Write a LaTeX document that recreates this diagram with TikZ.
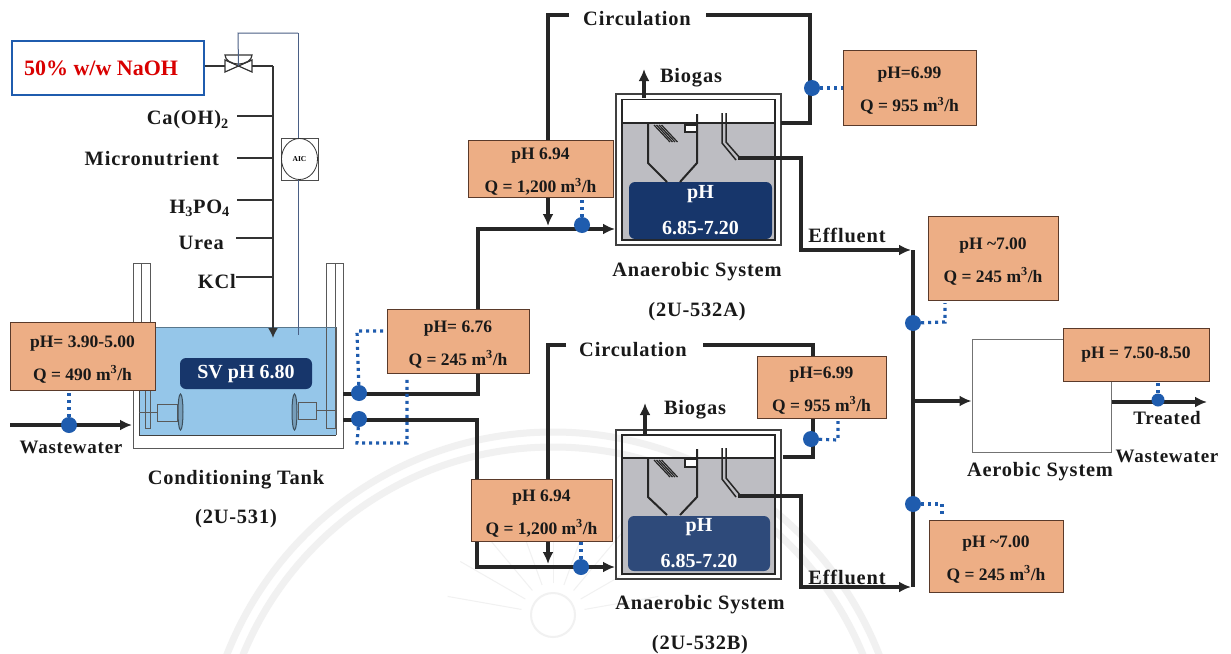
\documentclass[tikz,border=0pt]{standalone}
\usepackage{fontspec}
\setmainfont{Liberation Serif}
\newfontfamily\labfont[LetterSpace=4]{Liberation Serif}
\usetikzlibrary{arrows.meta,shapes.geometric}
\definecolor{boxfill}{HTML}{EDAE85}
\definecolor{boxline}{HTML}{5A3A2A}
\definecolor{navy}{HTML}{17366B}
\definecolor{water}{HTML}{95C6E9}
\definecolor{dotblue}{HTML}{1F5CAE}
\definecolor{sludge}{HTML}{BDBDC2}
\definecolor{pipe}{HTML}{262626}
\definecolor{wm}{HTML}{F1F1F1}
\definecolor{ctrlc}{HTML}{4A5F85}
\tikzset{
  databox/.style={draw=boxline,fill=boxfill,line width=1pt,inner sep=0pt,align=center,
    font=\fontsize{17.5}{33}\selectfont\bfseries,text=black!90},
  lab/.style={font=\fontsize{20.4}{24}\selectfont\labfont\bfseries,text=black!90,inner sep=0pt,yshift=-2pt},
  smalllab/.style={lab,font=\fontsize{19}{23}\selectfont\labfont\bfseries},
  darkbox/.style={fill=navy,rounded corners=6pt,inner sep=0pt,text=white,align=center},
  pipeline/.style={draw=pipe,line width=3.2pt},
  thinline/.style={draw=pipe,line width=1.2pt},
  hood/.style={draw=pipe,line width=2pt},
  ctrl/.style={draw=ctrlc,line width=1pt},
  wall/.style={draw=black!65,line width=1pt},
  flow/.style={pipeline,-{Latex[length=12pt,width=11pt]}},
  feed/.style={draw=black!80,line width=1.8pt},
  probe/.style={circle,fill=dotblue,minimum size=16pt,inner sep=0pt},
  tap/.style={draw=dotblue,line width=3.2pt,dash pattern=on 3pt off 4pt},
}
% first-line strut: pushes the two text lines of a data box down to where the reference has them
\newcommand{\twolines}[2]{\rule{0pt}{18pt}#1\\#2}
\begin{document}
\begin{tikzpicture}[x=1pt,y=-1pt]
\useasboundingbox (0,0) rectangle (1231,653);
\fill[white] (0,0) rectangle (1231,653);
% watermark
\draw[wm,line width=7pt] (553,782) circle[radius=350];
\draw[wm,line width=7pt] (553,782) circle[radius=335];
\draw[wm,line width=2pt] (553,615) circle[radius=22];
\foreach \a in {10,30,...,170}{\draw[wm,line width=1pt] (553,615)++({-\a}:32) -- ++({-\a}:75);}

% ---- conditioning tank
\fill[water] (139,327) rectangle (336,435);
\draw[wall] (133,263) -- (133,448) -- (343,448) -- (343,263);
\draw[wall] (133,263) -- (150,263) -- (150,327);
\draw[wall] (141,263) -- (141,327);
\draw[wall] (326,263) -- (343,263);
\draw[wall] (326,263) -- (326,428) -- (335,428) -- (335,263);
\draw[wall,draw=black!75] (139,327) -- (139,435) -- (336,435);
\draw[wall] (336,327) -- (336,435);
\draw[wall,draw=black!40!water] (139,327) -- (336,327);
\draw[wall] (145,390) -- (145,428) -- (150,428) -- (150,390);
\draw[wall] (139,412) -- (157,412);
\draw[wall,fill=water] (157,404) rectangle (177,421);
\draw[wall,draw=black!60!water,fill=water!80!black] (180.5,412) ellipse[x radius=2.5,y radius=18];
\draw[wall] (316,410) -- (336,410);
\draw[wall,fill=water] (298,402) rectangle (316,419);
\draw[wall,draw=black!60!water,fill=water!80!black] (294.5,412) ellipse[x radius=2.5,y radius=18];
\node[darkbox,minimum width=132pt,minimum height=31pt,font=\fontsize{20}{23}\selectfont\bfseries] (sv) at (246,373.5) {SV pH 6.80};
\node[lab] (ctname) at (236,478) {Conditioning Tank};
\node[lab] (ctid) at (236,517) {(2U-531)};

% ---- NaOH feed
\node[draw=dotblue,line width=1.4pt,minimum width=192pt,minimum height=54pt,inner sep=0pt] (naoh) at (108,68) {};
\node[font=\fontsize{22}{25}\selectfont\bfseries,text=red!85!black,inner sep=0pt] (naohtxt) at (101,68.5) {50\% w/w NaOH};
\coordinate (vl) at (225,66);
\coordinate (vr) at (252,66);
\coordinate (vc) at (238.5,66);
\coordinate (head) at (273,66);
\coordinate (tankin) at (273,338);
\draw[feed,line width=1.2pt] (naoh.east |- vl) -- (vl);
\draw[feed,line width=1.2pt,fill=white] (225,60) -- (252,72) -- (252,60) -- (225,72) -- cycle;
\draw[feed,line width=1.2pt] (vr) -- (head);
\draw[feed,line width=1.2pt] (225,55) arc[start angle=180,end angle=0,x radius=13.5,y radius=9] -- cycle;
\draw[ctrl] (vc) -- (238,33) -- (298,33);
\draw[feed,-{Latex[length=10pt,width=10pt]}] (head) -- (tankin);
\node[draw=black!70,minimum width=37pt,minimum height=42pt,inner sep=0pt,line width=.8pt] (aicbox) at (299.5,159) {};
\node[draw=black!80,ellipse,minimum width=36pt,minimum height=41pt,inner sep=0pt,line width=.8pt,font=\fontsize{7.5}{9}\selectfont\bfseries] (aic) at (299.5,159) {AIC};
\coordinate (ctrltop) at (298,33);
\coordinate (ctrlend) at (298,335);
\draw[ctrl] (ctrltop) -- (aicbox.north -| ctrltop);
\draw[ctrl] (aicbox.south -| ctrltop) -- (ctrlend);
\foreach \nm/\yy/\xs in {ca/116/237,mi/158/237,hp/200/237,ur/238/236,kc/277/236}{
  \coordinate (\nm) at (\xs,\yy);
  \draw[feed] (\nm) -- (273,\yy);
}
\node[lab,anchor=east] (catxt) at (229,118) {Ca(OH)\textsubscript{2}};
\node[lab,anchor=east] (mitxt) at (219,157) {Micronutrient};
\node[lab,anchor=east] (hptxt) at (230,206) {H\textsubscript{3}PO\textsubscript{4}};
\node[lab,anchor=east] (urtxt) at (224,241) {Urea};
\node[lab,anchor=east] (kctxt) at (236,280) {KCl};

% ---- influent
\node[databox,minimum width=145pt,minimum height=68pt] (pin) at (82.5,356) {\twolines{pH= 3.90-5.00}{Q = 490 m\textsuperscript{3}/h}};
\coordinate (wwstart) at (10,425);
\coordinate (wwend) at (132,425);
\draw[flow] (wwstart) -- (wwend);
\node[probe] (din) at (69,425) {};
\draw[tap] (din) -- (din |- pin.south);
\node[smalllab] (wwtxt) at (71,445) {Wastewater};

% ---- split to the anaerobic systems
\coordinate (a1) at (343,394);
\coordinate (a2) at (343,420);
\coordinate (ainA) at (615,229);
\coordinate (ainB) at (615,567);
\draw[flow] (a1) -- (478,394) -- (478,229) -- (ainA);
\draw[flow] (a2) -- (477,420) -- (477,567) -- (ainB);
\node[probe] (d1) at (359,393) {};
\node[probe] (d2) at (359,419) {};
\node[databox,minimum width=142pt,minimum height=64pt] (pmid) at (458,341) {\twolines{pH= 6.76}{Q = 245 m\textsuperscript{3}/h}};
\draw[tap] (d1) -- (357,331) -- (384,331);
\draw[tap] (d2) -- (357,443) -- (407,443) -- (407,376);

% ---- system A
\coordinate (carcA) at (548,15);
\node[lab] (circA) at (637,17) {Circulation};
\node[draw=black!75,line width=1.8pt,minimum width=165pt,minimum height=151pt,inner sep=0pt] (tankA) at (698.5,169.5) {};
\fill[sludge] (622,124) rectangle (775,240);
\draw[black!85,line width=1.5pt] (622,99.5) rectangle (775,240);
\node[darkbox,minimum width=143pt,minimum height=57pt,font=\fontsize{20}{36}\selectfont\bfseries] (phA) at (700.5,210.5) {pH\\6.85-7.20};
\draw[hood] (622,123) -- (775,123);
\draw[hood] (648,124) -- (648,163) -- (667,182);
\draw[hood] (697,114) -- (697,163) -- (680,182);
\draw[thinline,fill=white] (685,125) rectangle (697,132);
\foreach \d in {0,2.5,5,7.5}{\draw[thinline] (654+\d,125) -- (670+\d,142);}
\draw[thinline,line width=1.5pt] (722,113) -- (722,143) -- (736,160);
\draw[thinline,line width=1.5pt] (726,113) -- (726,142) -- (740,158);
\coordinate (effA) at (738,158);
\coordinate (collA) at (913,250);
\draw[pipeline] (781,123) -- (810,123) -- (810,15) -- (706,15);
\draw[pipeline] (569,15) -- (548,15) -- (548,140);
\node[databox,minimum width=145pt,minimum height=57pt] (pA) at (540.5,168.5) {\twolines{pH 6.94}{Q = 1,200 m\textsuperscript{3}/h}};
\draw[flow] (pA.south -| carcA) -- (548,226);
\node[probe] (dA) at (582,225) {};
\draw[tap] (dA) -- (dA |- pA.south);
\draw[flow] (644,98) -- (644,69);
\node[lab] (bgA) at (691,76) {Biogas};
\node[databox,minimum width=133pt,minimum height=75pt] (rA) at (909.5,87.5) {\twolines{pH=6.99}{Q = 955 m\textsuperscript{3}/h}};
\node[probe] (drA) at (812,88) {};
\draw[tap] (drA) -- (rA.west |- drA);
\node[lab] (anA) at (697,270) {Anaerobic System};
\node[lab] (idA) at (697,310) {(2U-532A)};

% ---- system B
\node[lab] (circB) at (633,348) {Circulation};
\node[draw=black!75,line width=1.8pt,minimum width=165pt,minimum height=149pt,inner sep=0pt] (tankB) at (698.5,504.5) {};
\fill[sludge] (622,459) rectangle (775,574);
\draw[black!85,line width=1.5pt] (622,435) rectangle (775,574);
\node[darkbox,minimum width=142pt,minimum height=55pt,font=\fontsize{20}{36}\selectfont\bfseries,fill=navy!90!white] (phB) at (699,543.5) {pH\\6.85-7.20};
\draw[hood] (622,458) -- (775,458);
\draw[hood] (648,459) -- (648,497) -- (667,515);
\draw[hood] (697,449) -- (697,497) -- (680,515);
\draw[thinline,fill=white] (685,459) rectangle (697,467);
\foreach \d in {0,2.5,5,7.5}{\draw[thinline] (654+\d,460) -- (670+\d,477);}
\draw[thinline,line width=1.5pt] (722,448) -- (722,479) -- (736,497);
\draw[thinline,line width=1.5pt] (726,448) -- (726,478) -- (740,495);
\coordinate (effB) at (738,496);
\coordinate (collB) at (913,587);
\draw[pipeline] (783,457) -- (813,457) -- (813,418);
\draw[pipeline] (813,356) -- (813,345) -- (703,345);
\draw[pipeline] (566,345) -- (548,345) -- (548,479);
\node[databox,minimum width=141pt,minimum height=62pt] (pB) at (541.5,510) {\twolines{pH 6.94}{Q = 1,200 m\textsuperscript{3}/h}};
\coordinate (carcB) at (548,345);
\draw[flow] (pB.south -| carcB) -- (548,564);
\node[probe] (dB) at (581,567) {};
\draw[tap] (dB) -- (dB |- pB.south);
\draw[flow] (645,434) -- (645,403);
\node[lab] (bgB) at (695,408) {Biogas};
\node[databox,minimum width=129pt,minimum height=62pt] (rB) at (821.5,387) {\twolines{pH=6.99}{Q = 955 m\textsuperscript{3}/h}};
\node[probe] (drB) at (811,439) {};
\draw[tap] (drB) -- (838,440) -- (838,421);
\node[lab] (anB) at (700,603) {Anaerobic System};
\node[lab] (idB) at (700,643) {(2U-532B)};

% ---- effluent collector
\draw[flow] (effA) -- (801,158) -- (801,250) -- (911,250);
\draw[flow] (effB) -- (801,496) -- (801,587) -- (911,587);
\draw[pipeline,line width=3.6pt] (collA) -- (collB);
\node[lab] (efA) at (847,233) {Effluent};
\node[lab] (efB) at (847,575) {Effluent};
\node[databox,minimum width=130pt,minimum height=84pt] (q1) at (993,258) {\twolines{pH \textasciitilde7.00}{Q = 245 m\textsuperscript{3}/h}};
\node[databox,minimum width=134pt,minimum height=72pt] (q2) at (996,556) {\twolines{pH \textasciitilde7.00}{Q = 245 m\textsuperscript{3}/h}};
\node[probe] (dq1) at (913,323) {};
\node[probe] (dq2) at (913,504) {};
\draw[tap] (dq1) -- (945,322) -- (945,303);
\draw[tap] (dq2) -- (942,504) -- (942,517);

% ---- aerobic system
\node[draw=black!55,line width=1pt,minimum width=139pt,minimum height=113pt,inner sep=0pt] (aer) at (1041.5,395.5) {};
\coordinate (collmid) at (913,401);
\draw[flow] (collmid) -- (aer.west |- collmid);
\node[databox,minimum width=146pt,minimum height=53pt] (pout) at (1136,354.5) {pH = 7.50-8.50};
\coordinate (tw) at (1207,402);
\draw[flow] (aer.east |- tw) -- (tw);
\node[probe,minimum size=13pt] (dout) at (1158,400) {};
\draw[tap] (dout) -- (dout |- pout.south);
\node[lab] (aertxt) at (1040,470) {Aerobic System};
\node[smalllab] (tr) at (1167,416) {Treated};
\node[smalllab] (wo) at (1167,454) {Wastewater};
\end{tikzpicture}
\end{document}
